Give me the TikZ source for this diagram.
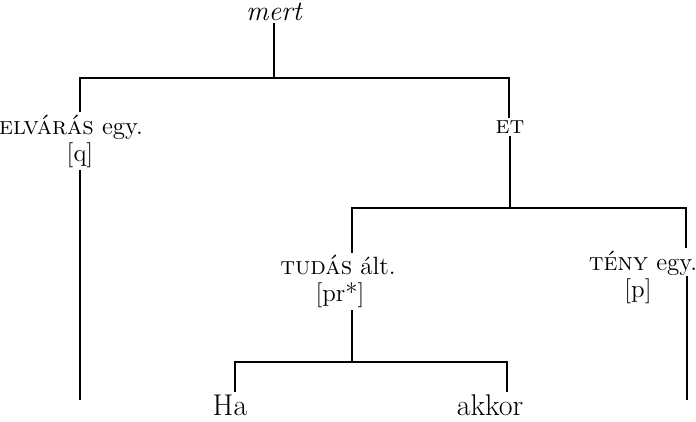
\documentclass[tikz,border=0pt]{standalone}
\usepackage{tikz}
\usetikzlibrary{positioning, calc}

\begin{document}
\begin{tikzpicture}[x=0.5pt, y=-0.5pt,
    branch/.style={line width=1.4pt},
    lbl/.style={inner sep=1pt, font=\fontsize{12.5}{14}\selectfont},
    leaf/.style={inner sep=1pt, font=\fontsize{15}{17}\selectfont}]
      \useasboundingbox (0,0) rectangle (696,422);
      % labels
      \node[lbl, font=\fontsize{14}{16}\selectfont\itshape] (mert) at (274,12) {mert};
      \node[lbl] (elv) at (71,127) {\textsc{elvárás} egy.};
      \node[lbl] (q) at (80,155) {[q]};
      \node[lbl] (et) at (510,127) {\textsc{et}};
      \node[lbl] (tudas) at (338,265) {\textsc{tudás} ált.};
      \node[lbl] (pr) at (340,295) {[pr*]};
      \node[lbl] (teny) at (643,263) {\textsc{tény} egy.};
      \node[lbl] (p) at (638,291) {[p]};
      \node[leaf] (ha) at (230,405) {Ha};
      \node[leaf] (akkor) at (490,405) {akkor};
      % junctions
      \coordinate (j1) at (274,78);
      \coordinate (j1l) at (80,78);
      \coordinate (j1r) at (509,78);
      \coordinate (j2) at (510,208);
      \coordinate (j2l) at (352,208);
      \coordinate (j2r) at (686,208);
      \coordinate (j3) at (352,362);
      \coordinate (j3l) at (235,362);
      \coordinate (j3r) at (507,362);
      \coordinate (endl) at (80,400);
      \coordinate (endr) at (687,400);
      % tree
      \draw[branch] (mert) -- (j1);
      \draw[branch] (j1l |- elv.north) -- (j1l) -- (j1r) -- (j1r |- et.north);
      \draw[branch] (q) -- (endl);
      \draw[branch] (et) -- (j2);
      \draw[branch] (j2l |- tudas.north) -- (j2l) -- (j2r) -- (j2r |- teny.north);
      \draw[branch] (endr |- p.north) -- (endr);
      \draw[branch] (j3 |- pr.south) -- (j3);
      \draw[branch] (j3l |- ha.north) -- (j3l) -- (j3r) -- (j3r |- akkor.north);
    \end{tikzpicture}
\end{document}
